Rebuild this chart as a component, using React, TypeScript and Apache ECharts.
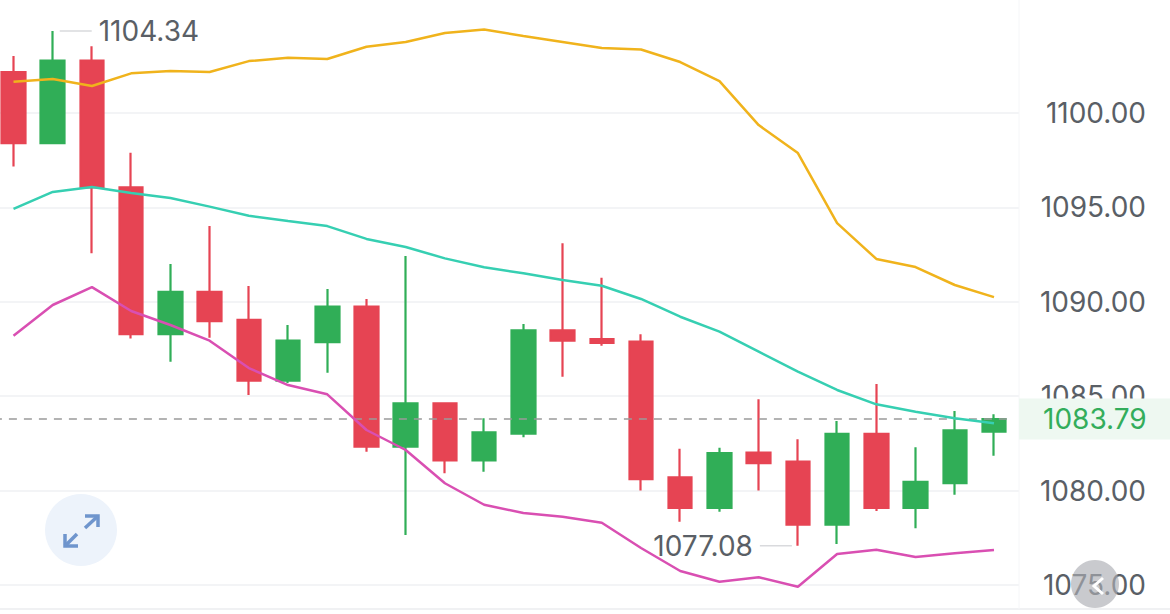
import React, { useEffect, useRef } from "react";
import * as echarts from "echarts";

const categories = Array.from({ length: 26 }, (_, i) => `K${i + 1}`);
const opens = [1102.17,1098.40,1102.77,1096.06,1088.28,1090.53,1089.04,1085.82,1087.86,1089.74,1082.33,1084.62,1081.60,1083.01,1088.49,1088.03,1087.89,1080.70,1079.09,1082.01,1081.53,1078.19,1083.01,1079.09,1080.40,1083.12];
const closes = [1098.40,1102.77,1096.06,1088.28,1090.53,1088.98,1085.82,1087.94,1089.74,1082.33,1084.62,1081.60,1083.09,1088.49,1087.94,1087.82,1080.60,1079.09,1081.99,1081.45,1078.19,1083.01,1079.09,1080.47,1083.19,1083.79];
const lows = [1097.16,1098.40,1092.57,1088.05,1086.83,1088.10,1085.06,1085.70,1086.24,1082.06,1077.65,1080.92,1081.00,1082.82,1086.03,1087.67,1080.00,1078.35,1078.88,1080.00,1077.08,1077.17,1078.92,1078.00,1079.78,1081.85];
const highs = [1103.02,1104.34,1103.53,1097.90,1092.00,1094.01,1090.84,1088.77,1090.68,1090.15,1092.43,1084.62,1083.83,1088.82,1093.10,1091.28,1088.28,1082.22,1082.27,1084.84,1082.72,1083.69,1085.65,1082.29,1084.22,1084.04];
const upperBand = [1101.66,1101.80,1101.43,1102.10,1102.22,1102.17,1102.75,1102.93,1102.86,1103.51,1103.76,1104.24,1104.42,1104.08,1103.76,1103.44,1103.36,1102.70,1101.69,1099.36,1097.88,1094.17,1092.27,1091.84,1090.89,1090.25];
const middleBand = [1094.92,1095.82,1096.08,1095.76,1095.50,1095.04,1094.56,1094.28,1094.01,1093.33,1092.90,1092.30,1091.83,1091.51,1091.15,1090.85,1090.15,1089.21,1088.42,1087.36,1086.30,1085.33,1084.57,1084.18,1083.83,1083.57];
const lowerBand = [1088.20,1089.83,1090.78,1089.51,1088.77,1087.94,1086.49,1085.59,1085.10,1083.21,1082.15,1080.39,1079.25,1078.81,1078.62,1078.30,1076.96,1075.74,1075.17,1075.41,1074.91,1076.64,1076.87,1076.48,1076.68,1076.85];
const lastPrice = 1083.79;
const highestPrice = 1104.34;
const highestIndex = 1;
const lowestPrice = 1077.08;
const lowestIndex = 20;

const FONT = "Inter";
const TEXT = "#5a5f66";
const RED = "#e64453";
const GREEN = "#30ae57";

const bandLine = (name: string, data: number[], color: string) => ({
  name,
  type: "line",
  data,
  xAxisIndex: 0,
  yAxisIndex: 0,
  symbol: "none",
  clip: false,
  z: 6,
  lineStyle: { color, width: 2.5 },
});

const extremeLabel = (position: string) => ({
  show: true,
  position,
  distance: 7,
  fontFamily: FONT,
  fontSize: 28,
  color: TEXT,
});

export default function App() {
  const ref = useRef<HTMLDivElement>(null);
  useEffect(() => {
    document.body.style.margin = "0";
    const chart = echarts.init(ref.current!, undefined, { renderer: "svg" });
    chart.setOption({
      animation: false,
      backgroundColor: "#ffffff",
      grid: [
        { left: -6.1, width: 1019.7, top: -75.8, height: 755.2, outerBoundsMode: "none" },
        { left: 0, width: 1019, top: 113, height: 472, outerBoundsMode: "none" },
      ],
      xAxis: [
        { type: "category", gridIndex: 0, data: categories, boundaryGap: true, show: false },
        { type: "value", gridIndex: 1, min: 0, max: 1, show: false },
      ],
      yAxis: [
        { type: "value", gridIndex: 0, min: 1070, max: 1110, interval: 5, show: false },
        {
          type: "value",
          gridIndex: 1,
          position: "right",
          min: 1075,
          max: 1100,
          interval: 5,
          axisLine: { show: false },
          axisTick: { show: false },
          splitLine: { show: true, lineStyle: { color: "#f3f4f6", width: 2 } },
          axisLabel: {
            align: "right",
            margin: 127,
            fontFamily: FONT,
            fontSize: 28,
            color: TEXT,
            formatter: (v: number) => v.toFixed(2),
          },
        },
      ],
      series: [
        {
          type: "candlestick",
          xAxisIndex: 0,
          yAxisIndex: 0,
          z: 4,
          barWidth: 24,
          data: categories.map((_, i) => [opens[i], closes[i], lows[i], highs[i]]),
          itemStyle: {
            color: GREEN,
            color0: RED,
            borderColor: GREEN,
            borderColor0: RED,
            borderWidth: 2.2,
          },
          markLine: {
            silent: true,
            symbol: "none",
            z: 5,
            lineStyle: { color: "#9a9a9a", type: [8, 7], width: 1.5 },
            data: [{ yAxis: lastPrice }],
            label: {
              show: true,
              position: "end",
              distance: 5.4,
              formatter: () => lastPrice.toFixed(2),
              fontFamily: FONT,
              fontSize: 28,
              color: "#33ad5b",
              backgroundColor: "#eef8f1",
              width: 127,
              height: 41,
              lineHeight: 41,
              padding: [0, 0, 0, 24],
            },
          },
          markPoint: {
            silent: true,
            symbol: "rect",
            data: [
              {
                coord: [highestIndex, highestPrice],
                symbolSize: [32, 1.5],
                symbolOffset: [23, 0],
                itemStyle: { color: "#d9dadd" },
                label: { ...extremeLabel("right"), formatter: () => highestPrice.toFixed(2) },
              },
              {
                coord: [lowestIndex, lowestPrice],
                symbolSize: [32, 1.5],
                symbolOffset: [-22, 0],
                itemStyle: { color: "#d9dadd" },
                label: { ...extremeLabel("left"), formatter: () => lowestPrice.toFixed(2) },
              },
            ],
          },
        },
        bandLine("Upper", upperBand, "#f0b31c"),
        bandLine("Middle", middleBand, "#36cfb2"),
        bandLine("Lower", lowerBand, "#d94fb2"),
      ],
      graphic: [
        { type: "line", z: 1, shape: { x1: 0, y1: 609, x2: 1170, y2: 609 }, style: { stroke: "#f0f1f3", lineWidth: 2 } },
        { type: "line", z: 1, shape: { x1: 1019, y1: 0, x2: 1019, y2: 609 }, style: { stroke: "#f5f6f8", lineWidth: 1 } },
        { type: "circle", z: 50, shape: { cx: 81, cy: 530, r: 36 }, style: { fill: "#edf3fb" } },
        { type: "polyline", z: 51, shape: { points: [[85, 516], [98, 516], [98, 527]] }, style: { stroke: "#6f95cd", fill: "none", lineWidth: 3.5 } },
        { type: "line", z: 51, shape: { x1: 98, y1: 516, x2: 85, y2: 528 }, style: { stroke: "#6f95cd", lineWidth: 3.5 } },
        { type: "polyline", z: 51, shape: { points: [[65, 534], [65, 546], [78, 546]] }, style: { stroke: "#6f95cd", fill: "none", lineWidth: 3.5 } },
        { type: "line", z: 51, shape: { x1: 65, y1: 546, x2: 77, y2: 534 }, style: { stroke: "#6f95cd", lineWidth: 3.5 } },
        { type: "circle", z: 50, shape: { cx: 1095, cy: 584, r: 24 }, style: { fill: "rgba(172,174,180,0.65)" } },
        { type: "polyline", z: 51, shape: { points: [[1103, 578], [1094, 586], [1103, 594]] }, style: { stroke: "#ffffff", fill: "none", lineWidth: 3 } },
      ],
    });
    return () => chart.dispose();
  }, []);
  return <div ref={ref} style={{ width: 1170, height: 614 }} />;
}
